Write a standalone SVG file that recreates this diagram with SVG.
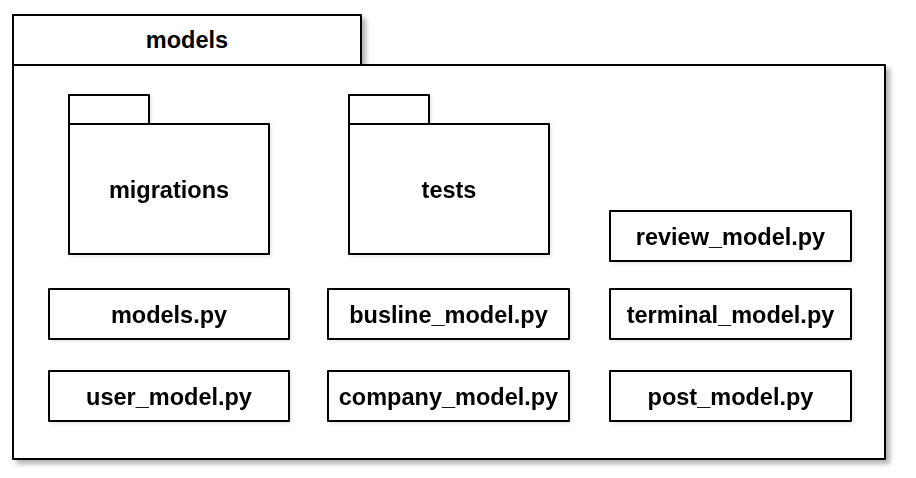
<svg xmlns="http://www.w3.org/2000/svg" width="916" height="478" viewBox="0 0 916 478">
<defs>
<filter id="sh" x="-5%" y="-5%" width="112%" height="115%">
<feDropShadow dx="4" dy="4" stdDeviation="2.5" flood-color="#000" flood-opacity="0.3"/>
</filter>
<filter id="sh2" x="-5%" y="-5%" width="115%" height="120%">
<feDropShadow dx="2" dy="2" stdDeviation="1.5" flood-color="#000" flood-opacity="0.08"/>
</filter>
</defs>
<style>
.b{fill:#fff;stroke:#000;stroke-width:2;stroke-linejoin:round}
.t{font-family:"Liberation Sans",Arial,sans-serif;font-weight:bold;font-size:23.5px;fill:#000;text-anchor:middle}
</style>
<rect width="916" height="478" fill="#fff"/>
<g id="models">
<g filter="url(#sh)">
<rect class="b" x="13" y="15" width="348" height="50"/>
<rect class="b" x="13" y="65" width="872" height="394"/>
</g>
<text class="t" x="187" y="48">models</text>
</g>
<g id="migrations" filter="url(#sh2)">
<rect class="b" x="69" y="95" width="80" height="29"/>
<rect class="b" x="69" y="124" width="200" height="130"/>
<text class="t" x="169" y="198">migrations</text>
</g>
<g id="tests" filter="url(#sh2)">
<rect class="b" x="349" y="95" width="80" height="29"/>
<rect class="b" x="349" y="124" width="200" height="130"/>
<text class="t" x="449" y="198">tests</text>
</g>
<g id="review_model" filter="url(#sh2)">
<rect class="b" x="610" y="211" width="241" height="50"/>
<text class="t" x="730.5" y="245">review_model.py</text>
</g>
<g id="models_py" filter="url(#sh2)">
<rect class="b" x="49" y="289" width="240" height="50"/>
<text class="t" x="169" y="323">models.py</text>
</g>
<g id="busline_model" filter="url(#sh2)">
<rect class="b" x="328" y="289" width="241" height="50"/>
<text class="t" x="448.5" y="323">busline_model.py</text>
</g>
<g id="terminal_model" filter="url(#sh2)">
<rect class="b" x="610" y="289" width="241" height="50"/>
<text class="t" x="730.5" y="323">terminal_model.py</text>
</g>
<g id="user_model" filter="url(#sh2)">
<rect class="b" x="49" y="371" width="240" height="50"/>
<text class="t" x="169" y="405">user_model.py</text>
</g>
<g id="company_model" filter="url(#sh2)">
<rect class="b" x="328" y="371" width="241" height="50"/>
<text class="t" x="448.5" y="405">company_model.py</text>
</g>
<g id="post_model" filter="url(#sh2)">
<rect class="b" x="610" y="371" width="241" height="50"/>
<text class="t" x="730.5" y="405">post_model.py</text>
</g>
<g id="connectors"/>
</svg>
